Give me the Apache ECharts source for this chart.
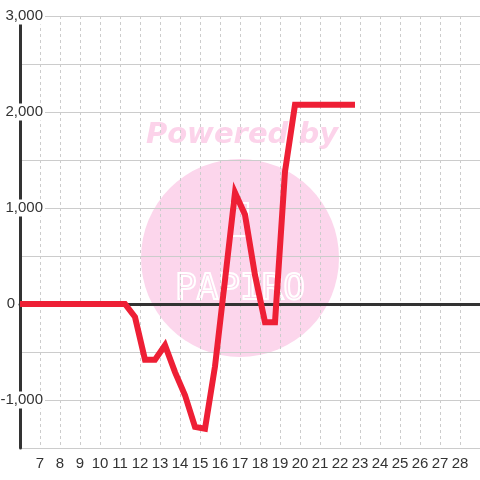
<!DOCTYPE html>
<html>
<head>
<meta charset="utf-8">
<script src="https://cdn.jsdelivr.net/npm/echarts@6/dist/echarts.min.js"></script>
<style>html,body{margin:0;padding:0;background:#fff}#c{width:480px;height:480px}</style>
</head>
<body>
<div id="c"></div>
<script>
var xValues = [6, 11.25, 11.75, 12.25, 12.75, 13.25, 13.75, 14.25, 14.75, 15.25, 15.75, 16.25, 16.75, 17.25, 17.75, 18.25, 18.75, 19.25, 19.75, 20.25, 20.75, 21.25, 21.75, 22.25, 22.75];
var yValues = [0, 0, -135, -580, -580, -430, -710, -950, -1280, -1300, -650, 250, 1160, 930, 300, -190, -190, 1380, 2075, 2075, 2075, 2075, 2075, 2075, 2075];
var xTickLabels = [7, 8, 9, 10, 11, 12, 13, 14, 15, 16, 17, 18, 19, 20, 21, 22, 23, 24, 25, 26, 27, 28];
var yTickLabels = [-1000, 0, 1000, 2000, 3000];

var pts = xValues.map(function (x, i) { return [x, yValues[i]]; });
var font = '"Liberation Sans", Arial, sans-serif';
var chart = echarts.init(document.getElementById('c'));
chart.setOption({
  animation: false,
  backgroundColor: '#ffffff',
  grid: { left: 20, right: 0, top: 16, bottom: 32, containLabel: false, outerBoundsMode: 'none' },
  graphic: [
    { type: 'circle', z: -10, shape: { cx: 240, cy: 258, r: 99 }, style: { fill: '#fcd6ec' } },
    { type: 'text', z: -10, x: 242, y: 135, style: { text: 'Powered by', fill: '#fcd3ea', font: 'italic bold 29px "DejaVu Sans", sans-serif', align: 'center', verticalAlign: 'middle' } },
    { type: 'rect', z: -9, shape: { x: 231, y: 203, width: 17, height: 33 }, style: { fill: 'none', stroke: '#ffffff', lineWidth: 2 } },
    { type: 'text', z: -9, x: 240, y: 290, style: { text: 'PAPIRO', fill: 'none', stroke: '#ffffff', lineWidth: 2, font: '36px "DejaVu Sans Mono", monospace', align: 'center', verticalAlign: 'middle' } }
  ],
  xAxis: [
    {
      type: 'value', min: 6, max: 29, interval: 1,
      axisLine: { show: true, onZero: true, lineStyle: { color: '#333333', width: 3 } },
      axisTick: { show: false }, axisLabel: { show: false },
      splitLine: { show: true, lineStyle: { color: '#cccccc', type: [3, 3], width: 1 } }
    },
    {
      type: 'value', min: 6, max: 29, interval: 1, position: 'bottom',
      axisLine: { show: false, onZero: false }, axisTick: { show: false }, splitLine: { show: false },
      axisLabel: {
        show: true, color: '#333333', fontSize: 15, fontFamily: font, margin: 8,
        formatter: function (v) { return xTickLabels.indexOf(v) >= 0 ? String(v) : ''; }
      }
    }
  ],
  yAxis: {
    type: 'value', min: -1500, max: 3000, interval: 500,
    axisLine: { show: true, lineStyle: { color: '#333333', width: 3 } },
    axisTick: { show: false },
    splitLine: { show: true, lineStyle: { color: '#cccccc', width: 1 } },
    axisLabel: {
      show: true, color: '#333333', fontSize: 15, fontFamily: font, margin: -25,
      formatter: function (v) {
        if (yTickLabels.indexOf(v) < 0) return '';
        if (v === 0) return '{z|0}';
        return '{n|' + v.toLocaleString('en-US') + '}';
      },
      rich: {
        n: { color: '#333333', fontSize: 15, fontFamily: font, backgroundColor: '#ffffff', padding: [1, 2, 1, 2] },
        z: { color: '#333333', fontSize: 15, fontFamily: font, padding: [1, 30, 1, 0] }
      }
    }
  },
  series: [{
    type: 'line', xAxisIndex: 0, data: pts, showSymbol: false, symbol: 'none', z: 5,
    lineStyle: { color: '#ee1f35', width: 6, join: 'miter' }
  }]
});
</script>
</body>
</html>
